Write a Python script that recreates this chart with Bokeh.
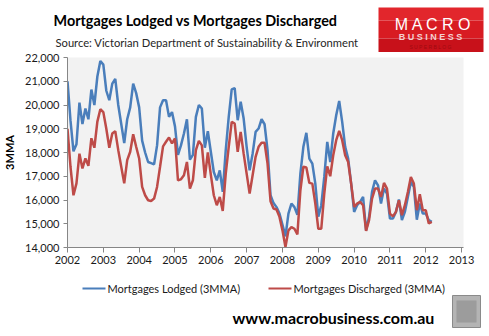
import pandas as pd
from bokeh.plotting import figure
from bokeh.layouts import column
from bokeh.models import Range1d, FixedTicker, NumeralTickFormatter
from bokeh.core.properties import value
from bokeh.embed import file_html
from bokeh.resources import INLINE

# ---------------- data ----------------
lodged = [
    21000, 19350, 18050, 18350, 20100, 19200, 19850, 19400, 20650, 20000, 21200, 21850,
    21700, 20600, 20200, 20900, 21100, 20000, 19200, 18400, 19400, 19900, 20900, 20500,
    19900, 18500, 18000, 17600, 17550, 17500, 18300, 19900, 20200, 20200, 19500, 19700,
    19100, 17900, 18300, 18800, 19400, 17700, 17900, 19500, 20000, 19850, 18200, 18900,
    18030, 17180, 16830, 17250, 16340, 18100, 19500, 20660, 20710, 19360, 20140, 19430,
    18240, 17250, 17950, 18870, 19010, 19400, 19190, 18100, 16200, 15870, 15700, 15430,
    14950, 14470, 15430, 15850, 15700, 15380, 17110, 18240, 18830, 17740, 17530, 16690,
    15300, 15780, 16970, 18450, 17600, 18800, 19570, 20170, 19290, 18240, 17740, 16690,
    15500, 15780, 15920, 16130, 14720, 15290, 16340, 16830, 16620, 15850, 16480, 16270,
    15220, 15220, 15500, 16020, 15150, 15500, 16130, 16760, 16550, 15170, 15850, 15430,
    15430, 15150, 15080,
]
discharged = [
    19000, 17400, 16200, 16700, 17950, 17330, 17750, 17440, 18600, 18200, 19300, 19820,
    19700, 19000, 18200, 18800, 18900, 18100, 17400, 16700, 17680, 18030, 18770, 18240,
    17750, 16550, 16200, 15990, 15960, 16060, 16550, 17400, 18260, 18450, 18630, 18380,
    18590, 16830, 16870, 17040, 17600, 16480, 16830, 18100, 18490, 18300, 16930, 18000,
    17070, 16200, 15780, 16130, 15540, 17110, 18240, 19290, 19220, 18030, 18870, 17950,
    17110, 16270, 17040, 17820, 18240, 18410, 18410, 17530, 15950, 15640, 15600, 15290,
    14720, 14020, 14720, 14860, 14790, 14550, 16410, 17400, 17370, 16720, 16690, 15850,
    14790, 14790, 16270, 17420, 17000, 17880, 18520, 18910, 18520, 17880, 17600, 16690,
    15710, 15850, 15920, 15780, 14700, 15150, 16060, 16480, 16480, 16130, 16720, 16480,
    15430, 15310, 15500, 15990, 15360, 15780, 16340, 16970, 16690, 15570, 16240, 15570,
    15570, 15010, 15080,
]
year_ticks = list(range(2002, 2014))
y_ticks = list(range(14000, 22001, 1000))

months = pd.date_range("2002-01-01", periods=len(lodged), freq="MS")
xs = [d.year + (d.month - 1) / 12 for d in months]

FONT = "Lato"
BLUE = "#4a7ebb"
RED = "#be4b48"
W = 489
HH = 52   # header height
MH = 218  # main height
FH = 336 - HH - MH


def blank(h):
    f = figure(width=W, height=h, x_range=Range1d(0, W), y_range=Range1d(h, 0),
               min_border=0, toolbar_location=None, output_backend="svg")
    f.frame_align = False
    f.axis.visible = False
    f.grid.visible = False
    f.outline_line_color = None
    f.background_fill_color = "white"
    f.border_fill_color = "white"
    return f


# ---------------- header ----------------
hdr = blank(HH)
hdr.text(x=[53], y=[20], text=["Mortgages Lodged vs Mortgages Discharged"],
         text_font=value(FONT), text_font_style="bold", text_font_size="14.4px",
         text_baseline="middle", text_align="left", text_color="#000000")
hdr.text(x=[55], y=[42], text=["Source: Victorian Department of Sustainability & Environment"],
         text_font=value(FONT), text_font_size="11.2px",
         text_baseline="middle", text_align="left", text_color="#262626")

# logo
hdr.quad(left=[378], right=[483], top=[7], bottom=[20], fill_color="#e2262c", line_color=None)
hdr.quad(left=[378], right=[483], top=[20], bottom=[38], fill_color="#d81b22", line_color=None)
hdr.quad(left=[378], right=[483], top=[38], bottom=[HH], fill_color="#c8111a", line_color=None)
hdr.text(x=[433], y=[24], text=["M A C R O"], text_font=value("Liberation Sans"),
         text_font_size="16px", text_baseline="middle", text_align="center", text_color="white")
hdr.text(x=[430], y=[36], text=["B U S I N E S S"], text_font=value("Liberation Sans"),
         text_font_style="bold", text_font_size="9px", text_baseline="middle",
         text_align="center", text_color="#f4d0d0")
hdr.text(x=[430], y=[46], text=["S U P E R B L O G"], text_font=value("Liberation Sans"),
         text_font_size="5px", text_baseline="middle", text_align="center", text_color="#9e0a10")

# ---------------- main chart ----------------
p = figure(width=W, height=MH, x_range=Range1d(2002, 2002 + 399 / 36.1),
           y_range=Range1d(14000, 22000), min_border_left=64, min_border_right=26,
           min_border_top=57 - HH, min_border_bottom=MH - 190 - (57 - HH),
           toolbar_location=None, output_backend="svg")
p.frame_align = False
p.background_fill_color = "#f2f2f2"
p.border_fill_color = "white"
p.outline_line_color = None
p.grid.visible = False

p.line(xs, lodged, line_color=BLUE, line_width=2.5)
p.line(xs, discharged, line_color=RED, line_width=2.5)

p.yaxis.ticker = FixedTicker(ticks=y_ticks)
p.yaxis.formatter = NumeralTickFormatter(format="0,0")
p.xaxis.ticker = FixedTicker(ticks=year_ticks)
p.xaxis.major_label_overrides = {y: str(y) for y in year_ticks}
for ax in (p.xaxis[0], p.yaxis[0]):
    ax.axis_line_color = "#868686"
    ax.major_tick_line_color = "#868686"
    ax.minor_tick_line_color = None
    ax.major_tick_in = 0
    ax.major_label_text_font = FONT
    ax.major_label_text_font_size = "11px"
    ax.major_label_text_color = "#1a1a1a"
p.yaxis.major_tick_out = 4
p.yaxis.major_label_standoff = 4
p.xaxis.major_tick_out = 5
p.xaxis.major_label_standoff = 3
p.yaxis.axis_label = "3MMA"
p.yaxis.axis_label_text_font = FONT
p.yaxis.axis_label_text_font_style = "bold"
p.yaxis.axis_label_text_font_size = "11px"
p.yaxis.axis_label_text_color = "#000000"
p.yaxis.axis_label_standoff = 6

# ---------------- footer ----------------
top = HH + MH
ftr = blank(FH)
ly = 288 - top
ftr.line([82, 105], [ly, ly], line_color=BLUE, line_width=2.2)
ftr.text(x=[107], y=[ly], text=["Mortgages Lodged (3MMA)"], text_font=value(FONT),
         text_font_size="11px", text_baseline="middle", text_align="left", text_color="#1a1a1a")
ftr.line([268, 291], [ly, ly], line_color=RED, line_width=2.2)
ftr.text(x=[293], y=[ly], text=["Mortgages Discharged (3MMA)"], text_font=value(FONT),
         text_font_size="11px", text_baseline="middle", text_align="left", text_color="#1a1a1a")
ftr.text(x=[232], y=[317 - top], text=["www.macrobusiness.com.au"], text_font=value(FONT),
         text_font_style="bold", text_font_size="16px", text_baseline="middle",
         text_align="left", text_color="#000000")
ftr.quad(left=[452], right=[480], top=[295 - top], bottom=[327 - top], fill_color="#b4b4b4",
         line_color="#8a8a8a", line_width=1)
ftr.quad(left=[456], right=[476], top=[300 - top], bottom=[322 - top], fill_color="#8c8c8c",
         line_color=None, fill_alpha=0.6)

layout = column(hdr, p, ftr, spacing=0)
open("out.html", "w").write(file_html(layout, INLINE))
